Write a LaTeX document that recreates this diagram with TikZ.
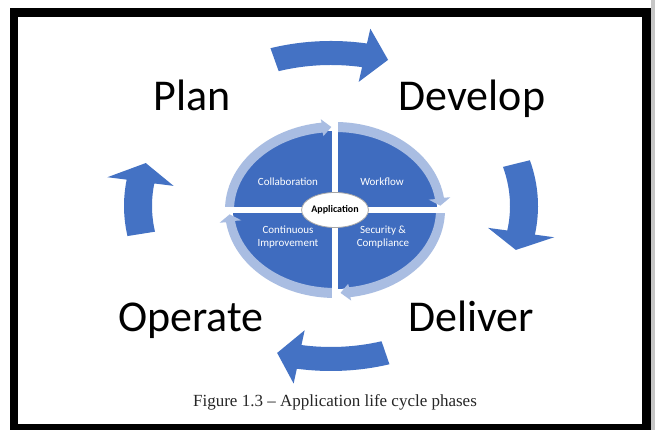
\documentclass[tikz,border=0pt]{standalone}
\usepackage{fontspec}
\setmainfont{Carlito}
\newfontfamily\capfont{Liberation Serif}
\usetikzlibrary{shapes.geometric}
\definecolor{bigblue}{HTML}{4472C4}
\definecolor{quadblue}{HTML}{3F6CBF}
\definecolor{ringblue}{HTML}{A9BDE2}
\tikzset{
  biglabel/.style={font=\fontsize{44}{50}\selectfont, text=black, anchor=base, inner sep=0pt},
  quadtext/.style={font=\fontsize{11}{12.5}\selectfont, text=white, align=center, inner sep=0pt},
  appnode/.style={ellipse, draw=gray!70, line width=0.8pt, fill=white, minimum width=58pt,
    minimum height=35pt, inner sep=0pt, font=\bfseries\fontsize{10}{12}\selectfont},
  captext/.style={anchor=base, inner sep=0pt, font=\capfont\fontsize{17}{20}\selectfont, text=black!85}
}
% curved block arrow along an ellipse: tail angle, head-base angle, tip angle
\newcommand\arcarrow[3]{%
  \fill ({\arcCX+(\arcA+\arcWX)*cos(#1)},{\arcCY+(\arcB+\arcWY)*sin(#1)})
    arc[start angle=#1, end angle=#2, x radius={(\arcA+\arcWX)*1pt}, y radius={(\arcB+\arcWY)*1pt}]
    -- ({\arcCX+(\arcA+\arcHX)*cos(#2)},{\arcCY+(\arcB+\arcHY)*sin(#2)})
    -- ({\arcCX+\arcA*cos(#3)},{\arcCY+\arcB*sin(#3)})
    -- ({\arcCX+(\arcA-\arcHX)*cos(#2)},{\arcCY+(\arcB-\arcHY)*sin(#2)})
    -- ({\arcCX+(\arcA-\arcWX)*cos(#2)},{\arcCY+(\arcB-\arcWY)*sin(#2)})
    arc[start angle=#2, end angle=#1, x radius={(\arcA-\arcWX)*1pt}, y radius={(\arcB-\arcWY)*1pt}]
    -- cycle;}
\begin{document}
\begin{tikzpicture}[x=1pt,y=1pt]
\useasboundingbox (0,0) rectangle (655,430);
\fill[white] (0,0) rectangle (655,430);
\fill[gray!45] (650.75,0) rectangle (655,430);
\draw[line width=8.5pt] (14,417.5) rectangle (646.5,1.5);

% big cycle arrows
\begin{scope}[fill=bigblue]
\def\arcCX{331}\def\arcCY{224}\def\arcA{193}\def\arcB{153}
\def\arcWX{14}\def\arcWY{12}\def\arcHX{33.5}\def\arcHY{27}
\arcarrow{107}{80}{72.8}
\arcarrow{16.1}{-10}{-16.7}
\arcarrow{-73.6}{-99.5}{-106.2}
\arcarrow{190.5}{170.8}{163.7}
\end{scope}

% central disc
\fill[quadblue] (335,220) ellipse[x radius=102pt, y radius=79pt];
\begin{scope}[fill=ringblue]
\def\arcCX{335}\def\arcCY{220}\def\arcA{105.5}\def\arcB{83}
\def\arcWX{4.5}\def\arcWY{5}\def\arcHX{11}\def\arcHY{8.5}
\arcarrow{180}{97}{92}
\arcarrow{90}{8}{3}
\arcarrow{0}{-82}{-87}
\arcarrow{270}{188}{183}
\end{scope}
\fill[white] (332.25,124) rectangle (337.75,316);
\fill[white] (217,217.25) rectangle (453,222.75);

\node[quadtext] (collab) at (288,248) {Collaboration};
\node[quadtext] (work) at (382,248) {Workflow};
\node[quadtext] (cont) at (288,193) {Continuous\\Improvement};
\node[quadtext] (sec) at (383,193) {Security \&\\Compliance};
\node[appnode] (app) at (335,220) {Application};

% phase labels
\node[biglabel] (plan) at (192,319) {Plan};
\node[biglabel] (develop) at (472,319) {Develop};
\node[biglabel] (operate) at (191,98) {Operate};
\node[biglabel] (deliver) at (471,98) {Deliver};

\node[captext] (cap) at (335,23) {Figure 1.3 – Application life cycle phases};
\end{tikzpicture}
\end{document}
